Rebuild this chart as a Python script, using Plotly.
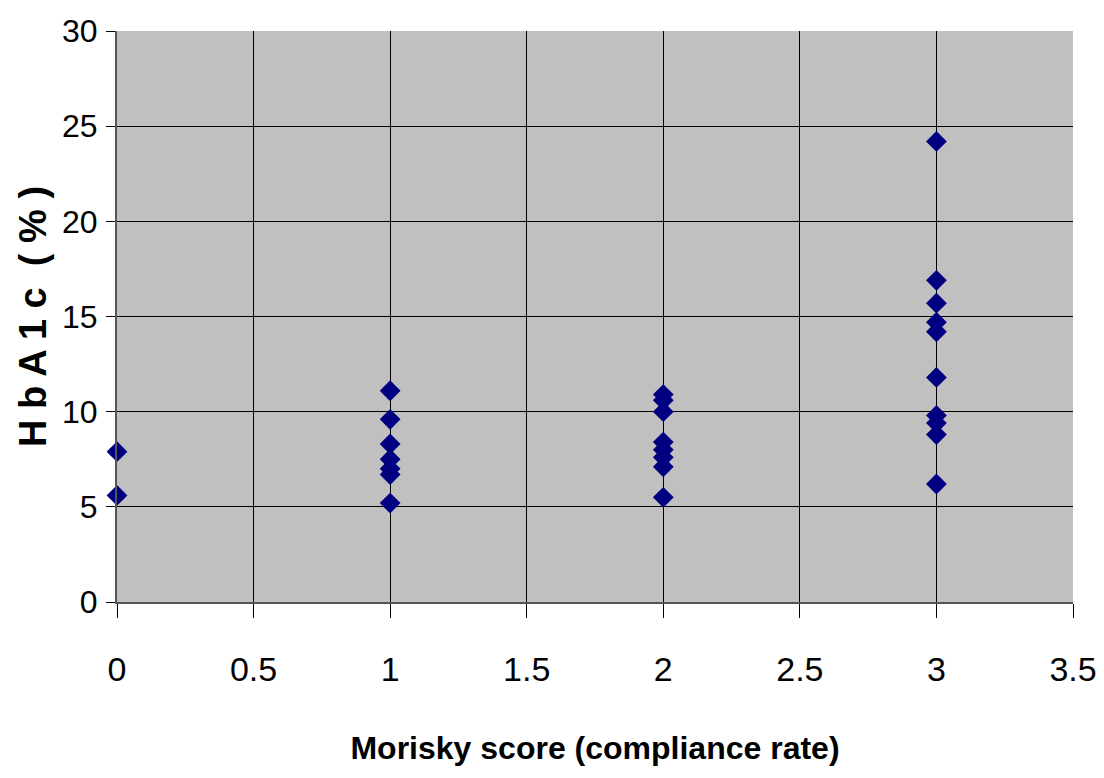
import plotly.graph_objects as go

morisky = [0, 0,
           1, 1, 1, 1, 1, 1, 1,
           2, 2, 2, 2, 2, 2, 2, 2,
           3, 3, 3, 3, 3, 3, 3, 3, 3, 3]
hba1c = [7.9, 5.6,
         11.1, 9.6, 8.3, 7.5, 7.0, 6.7, 5.2,
         10.9, 10.6, 10.0, 8.4, 8.0, 7.6, 7.1, 5.5,
         24.2, 16.9, 15.7, 14.7, 14.2, 11.8, 9.8, 9.4, 8.8, 6.2]

x_ticks = [0, 0.5, 1, 1.5, 2, 2.5, 3, 3.5]
x_labels = ["0", "0.5", "1", "1.5", "2", "2.5", "3", "3.5"]
y_ticks = [0, 5, 10, 15, 20, 25, 30]

FONT = "Liberation Sans Narrow, Arial Narrow, Liberation Sans, sans-serif"

fig = go.Figure()
fig.add_trace(go.Scatter(
    x=morisky, y=hba1c, mode="markers",
    marker=dict(symbol="diamond", size=16, color="#000080",
                line=dict(width=0)),
    cliponaxis=False, showlegend=False,
))

fig.update_layout(
    width=1104, height=778,
    margin=dict(l=117, r=31, t=31, b=176),
    paper_bgcolor="white",
    plot_bgcolor="#C0C0C0",
    font=dict(family=FONT, color="black"),
    xaxis=dict(
        range=[0, 3.5], tickvals=x_ticks, ticktext=x_labels,
        automargin=False,
        showgrid=True, gridcolor="black", gridwidth=1,
        zeroline=False, showline=True, linecolor="#555555", linewidth=2,
        mirror=False,
        ticks="outside", ticklen=14, tickcolor="black", tickwidth=1,
        ticklabelstandoff=22,
        tickfont=dict(size=34, family=FONT),
        title=dict(text="<b>Morisky score (compliance rate)</b>",
                   font=dict(size=32, family=FONT), standoff=50),
    ),
    yaxis=dict(
        range=[0, 30], tickvals=y_ticks,
        automargin=False,
        showgrid=True, gridcolor="black", gridwidth=1,
        zeroline=False, showline=True, linecolor="#555555", linewidth=2,
        ticks="outside", ticklen=9, tickcolor="black", tickwidth=1,
        ticklabelstandoff=2,
        tickfont=dict(size=32, family=FONT),
        title=dict(text="<b>H b A 1 c  ( % )</b>",
                   font=dict(size=38, family=FONT), standoff=4),
    ),
)

fig.write_html("out.html")
